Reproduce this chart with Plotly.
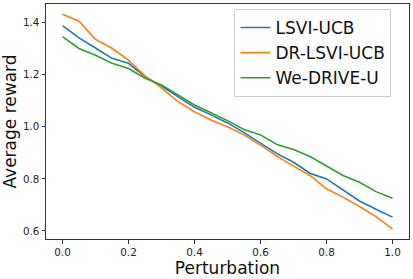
import plotly.graph_objects as go

perturbation = [0.0, 0.05, 0.1, 0.15, 0.2, 0.25, 0.3, 0.35, 0.4, 0.45, 0.5,
                0.55, 0.6, 0.65, 0.7, 0.75, 0.8, 0.85, 0.9, 0.95, 1.0]
lsvi_ucb = [1.389, 1.342, 1.303, 1.263, 1.244, 1.193, 1.157, 1.116, 1.075, 1.046, 1.015,
            0.978, 0.937, 0.897, 0.864, 0.822, 0.800, 0.757, 0.715, 0.683, 0.653]
dr_lsvi_ucb = [1.433, 1.406, 1.336, 1.302, 1.256, 1.196, 1.150, 1.097, 1.058, 1.026, 1.000,
               0.969, 0.930, 0.887, 0.849, 0.813, 0.762, 0.730, 0.694, 0.655, 0.608]
we_drive_u = [1.347, 1.301, 1.275, 1.244, 1.224, 1.187, 1.161, 1.122, 1.084, 1.054, 1.024,
              0.990, 0.969, 0.932, 0.913, 0.886, 0.848, 0.813, 0.787, 0.751, 0.726]

series = [("LSVI-UCB", lsvi_ucb, "#1f77b4"),
          ("DR-LSVI-UCB", dr_lsvi_ucb, "#ff7f0e"),
          ("We-DRIVE-U", we_drive_u, "#2ca02c")]

x_ticks = [0.0, 0.2, 0.4, 0.6, 0.8, 1.0]
y_ticks = [0.6, 0.8, 1.0, 1.2, 1.4]

fig = go.Figure()
for name, vals, color in series:
    fig.add_trace(go.Scatter(x=perturbation, y=vals, mode="lines", name=name,
                             line=dict(color=color, width=1.6)))

font = "DejaVu Sans, Arial, sans-serif"
axis_common = dict(showline=True, mirror=True, linecolor="#333333", linewidth=1,
                   ticks="outside", ticklen=3.5, tickwidth=1, tickcolor="#333333",
                   showgrid=False, zeroline=False, automargin=False,
                   tickfont=dict(family=font, size=10.4, color="#222222"))

fig.update_layout(
    width=413, height=279,
    margin=dict(l=46, r=4, t=4, b=40),
    paper_bgcolor="white", plot_bgcolor="white",
    font=dict(family=font, color="#111111"),
    xaxis=dict(range=[-0.05, 1.05], tickvals=x_ticks, tickformat=".1f",
               title=dict(text="Perturbation", font=dict(family=font, size=17), standoff=3),
               **axis_common),
    yaxis=dict(range=[0.569, 1.472], tickvals=y_ticks, tickformat=".1f",
               title=dict(text="Average reward", font=dict(family=font, size=17), standoff=4),
               **axis_common),
    legend=dict(x=0.7355, y=0.7915, xanchor="center", yanchor="middle",
                bgcolor="rgba(255,255,255,0.8)", bordercolor="#cccccc", borderwidth=1,
                font=dict(family=font, size=17, color="#111111")),
    showlegend=True,
)

fig.write_html("out.html", config={"displayModeBar": False},
               post_script="document.body.style.margin='0';document.body.style.overflow='hidden';")
